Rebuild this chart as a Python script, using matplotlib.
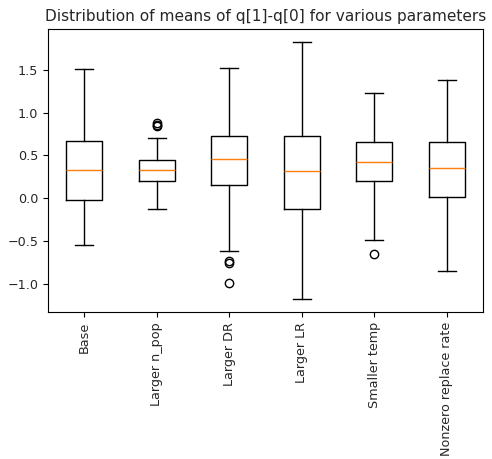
import matplotlib
matplotlib.use("Agg")
import matplotlib.pyplot as plt

# box statistics
labels = ["Base", "Larger n_pop", "Larger DR", "Larger LR", "Smaller temp", "Nonzero replace rate"]
medians = [0.332, 0.333, 0.461, 0.320, 0.426, 0.352]
q1 = [-0.028, 0.195, 0.156, -0.122, 0.195, 0.012]
q3 = [0.668, 0.441, 0.730, 0.730, 0.652, 0.652]
whisker_low = [-0.547, -0.122, -0.621, -1.184, -0.485, -0.852]
whisker_high = [1.507, 0.703, 1.524, 1.829, 1.234, 1.387]
fliers = [
    [],
    [0.845, 0.86, 0.875],
    [-0.74, -0.76, -0.989],
    [],
    [-0.653],
    [],
]


def main():
    stats = []
    for i, lab in enumerate(labels):
        stats.append({
            "label": lab,
            "med": medians[i],
            "q1": q1[i],
            "q3": q3[i],
            "whislo": whisker_low[i],
            "whishi": whisker_high[i],
            "fliers": fliers[i],
        })

    fig = plt.figure(figsize=(4.92, 4.59), dpi=100)
    ax = fig.add_axes([0.0976, 0.320, 0.884, 0.617])
    ax.bxp(stats, medianprops={"color": "#ff7f0e"})

    ax.set_title("Distribution of means of q[1]-q[0] for various parameters",
                 fontsize=11.1, color="#262626")
    ax.tick_params(labelsize=9.2, labelcolor="#262626")
    plt.setp(ax.get_xticklabels(), rotation=90)
    ax.set_yticks([-1.0, -0.5, 0.0, 0.5, 1.0, 1.5])

    fig.savefig("out.png", dpi=100)


if __name__ == '__main__':
    main()
